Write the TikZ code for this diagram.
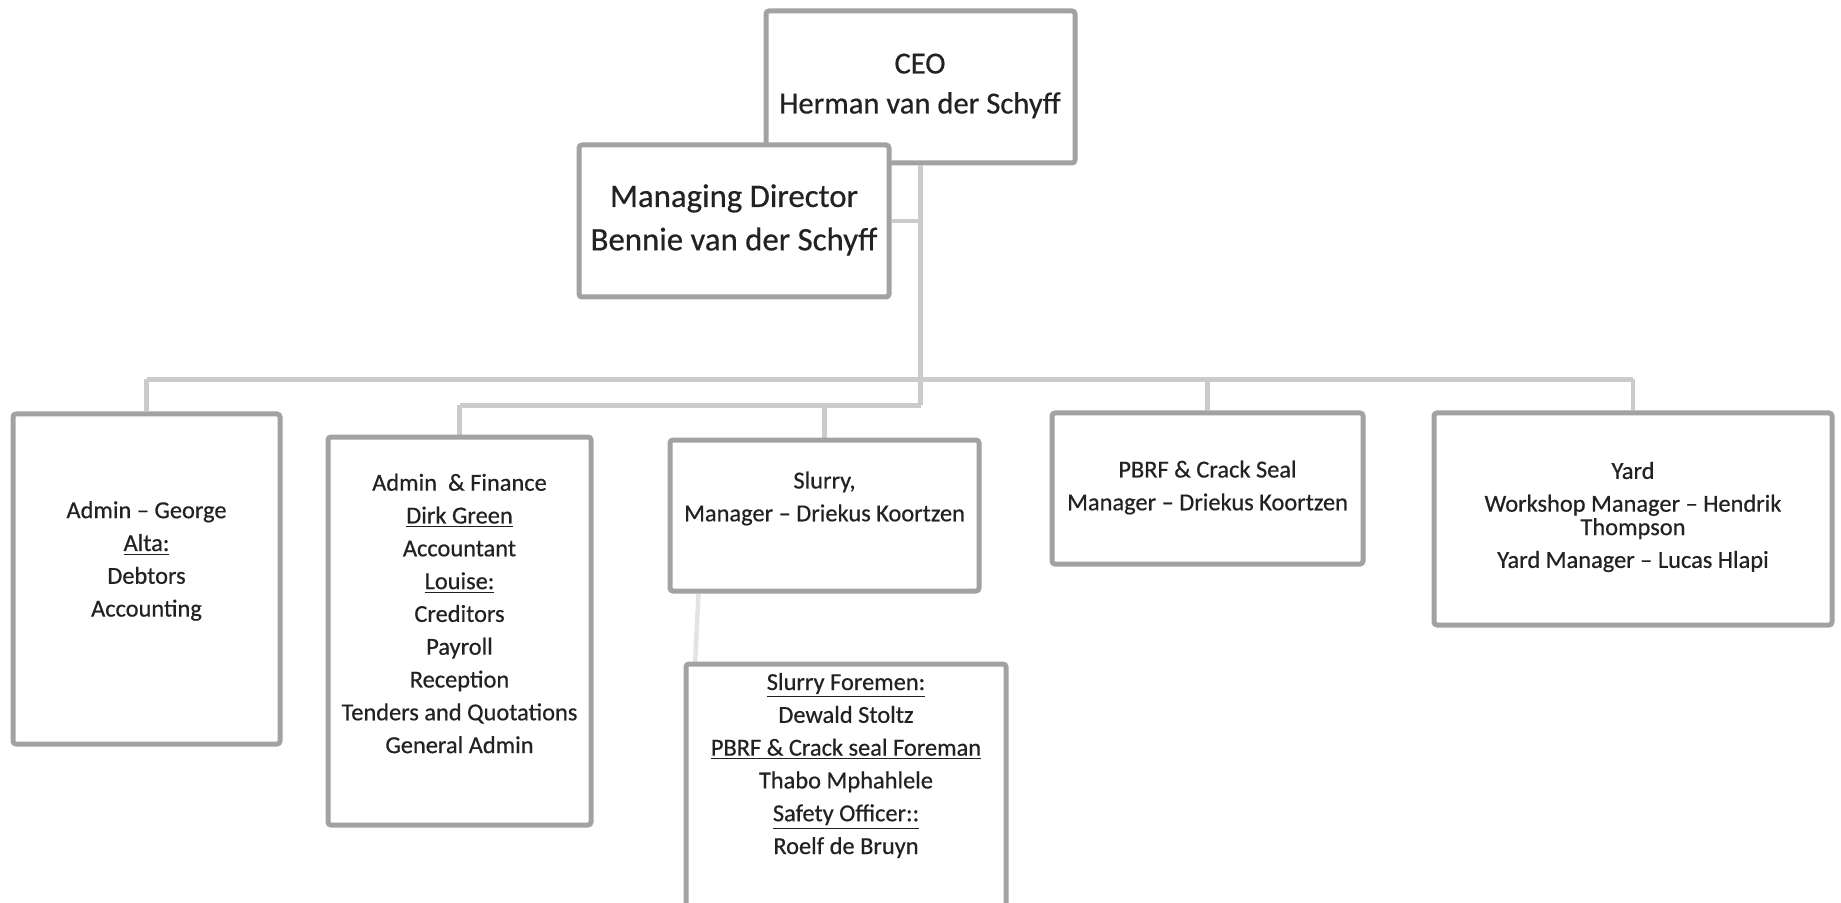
\documentclass[tikz,border=0pt]{standalone}
\usepackage{fontspec}
\setmainfont{Carlito}[BoldFont=Carlito, BoldFeatures={FakeBold=0.5}]
\usetikzlibrary{calc,fit}
\definecolor{boxgray}{HTML}{A2A2A2}
\definecolor{linegray}{HTML}{CBCBCB}
\definecolor{faintgray}{HTML}{E3E3E3}
\definecolor{txt}{HTML}{222222}
\tikzset{
  orgbox/.style={draw=boxgray, line width=2.5pt, fill=white, rounded corners=1.5pt, inner sep=0pt},
  conn/.style={draw=linegray, line width=2.2pt},
  faintconn/.style={draw=faintgray, line width=2.2pt},
  smalltext/.style={text=txt, align=center, inner sep=0pt, font=\fontsize{12.2pt}{16.4pt}\selectfont\bfseries},
  bigtext/.style={text=txt, align=center, inner sep=0pt}
}
\begin{document}
\begin{tikzpicture}[x=0.5pt,y=-0.5pt]
\useasboundingbox (0,0) rectangle (1841,903);

% boxes (shapes only, for connectors)
\node[orgbox, fit={(766,11) (1075,163)}] (ceo) {};

% junctions
\coordinate (j1) at ($(ceo.south)+(0,214)$);
\coordinate (j2) at ($(ceo.south)+(0,240)$);

\node[orgbox, fit={(13,414) (280,744)}, draw=none, fill=none] (ag0) {};
\node[orgbox, fit={(328,437) (591,825)}, draw=none, fill=none] (af0) {};
\node[orgbox, fit={(670,440) (979,591)}, draw=none, fill=none] (sl0) {};
\node[orgbox, fit={(1052,413) (1363,564)}, draw=none, fill=none] (pb0) {};
\node[orgbox, fit={(1434,413) (1832,625)}, draw=none, fill=none] (yd0) {};
\node[orgbox, fit={(579,145) (889,297)}, draw=none, fill=none] (md0) {};

% connectors
\draw[conn] (ceo.south) -- (j2);
\draw[conn] (md0.east) -- (md0.east -| ceo.south);
\draw[conn] (ag0.north |- j1) -- (yd0.north |- j1);
\draw[conn] (af0.north |- j2) -- (j2);
\draw[conn] (ag0.north) -- (ag0.north |- j1);
\draw[conn] (pb0.north) -- (pb0.north |- j1);
\draw[conn] (yd0.north) -- (yd0.north |- j1);
\draw[conn] (af0.north) -- (af0.north |- j2);
\draw[conn] (sl0.north) -- (sl0.north |- j2);
\coordinate (fmtop) at (695,664);
\draw[faintconn] ($(sl0.south west)+(31,0)$) -- (fmtop);

% drawn boxes
\node[orgbox, fit={(579,145) (889,297)}] (md) {};
\node[orgbox, fit={(13,414) (280,744)}] (ag) {};
\node[orgbox, fit={(328,437) (591,825)}] (af) {};
\node[orgbox, fit={(670,440) (979,591)}] (sl) {};
\node[orgbox, fit={(1052,413) (1363,564)}] (pb) {};
\node[orgbox, fit={(1434,413) (1832,625)}] (yd) {};
\node[orgbox, fit={(686,664) (1006,930)}] (fm) {};

% texts
\node[bigtext, font=\fontsize{15.3pt}{20pt}\selectfont\bfseries] (ceot) at (920,86) {CEO\\Herman van der Schyff};
\node[bigtext, font=\fontsize{16.4pt}{21.7pt}\selectfont\bfseries] (mdt) at (734,220) {Managing Director\\Bennie van der Schyff};

\node[smalltext] (agt) at (146.5,561) {Admin – George\\\underline{Alta:}\\Debtors\\Accounting};
\node[smalltext] (aft) at (459.5,613.5) {Admin\ \ \& Finance\\\underline{Dirk Green}\\Accountant\\\underline{Louise:}\\Creditors\\Payroll\\Reception\\Tenders and Quotations\\General Admin};
\node[smalltext] (slt) at (824.5,498.5) {Slurry,\\Manager – Driekus Koortzen};
\node[smalltext] (fmt) at (846,765.5) {\underline{Slurry Foremen:}\\Dewald Stoltz\\\underline{PBRF \& Crack seal Foreman}\\Thabo Mphahlele\\\underline{Safety Officer::}\\Roelf de Bruyn};
\node[smalltext] (pbt) at (1207.5,487.5) {PBRF \& Crack Seal\\Manager – Driekus Koortzen};
\node[smalltext] (ydt) at (1633,517) {Yard\\Workshop Manager – Hendrik\\[-4.7pt]Thompson\\Yard Manager – Lucas Hlapi};
\end{tikzpicture}
\end{document}
